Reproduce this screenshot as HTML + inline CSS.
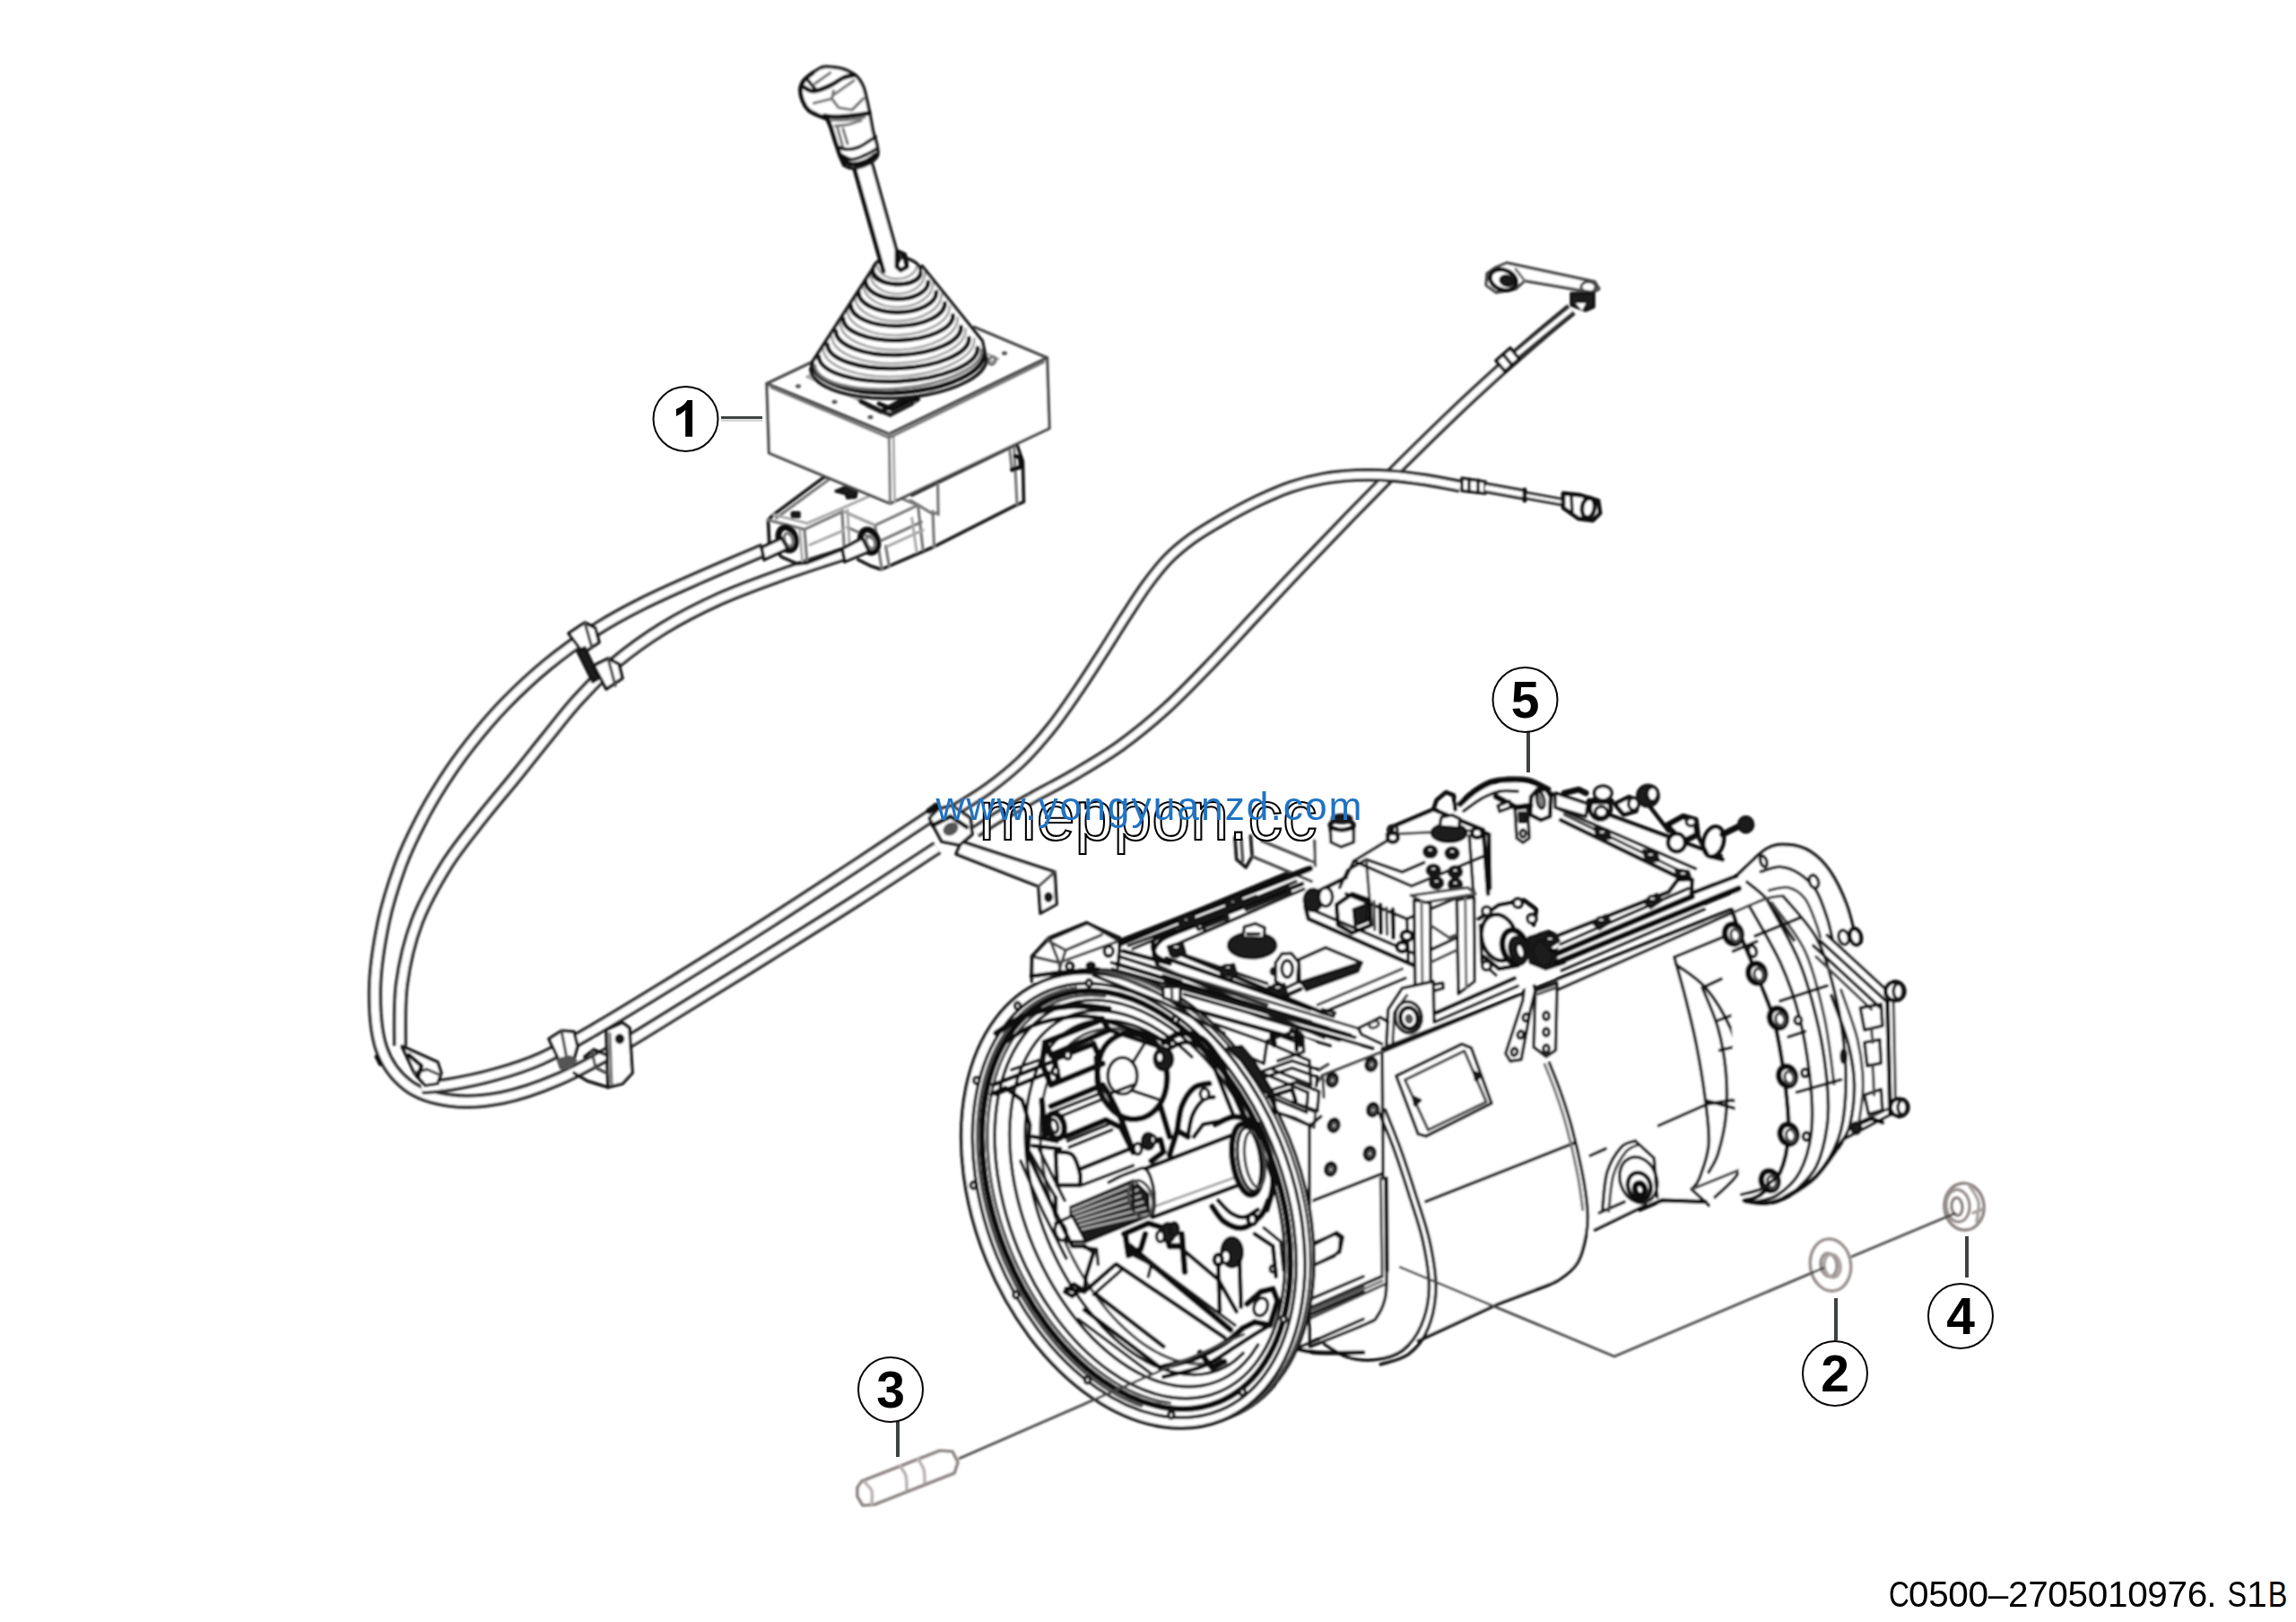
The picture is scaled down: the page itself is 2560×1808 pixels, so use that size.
<!DOCTYPE html>
<html>
<head>
<meta charset="utf-8">
<title>C0500-2705010976.S1B</title>
<style>
html,body{margin:0;padding:0;background:#fff;}
body{width:2560px;height:1808px;overflow:hidden;font-family:"Liberation Sans",sans-serif;}
svg{display:block;position:absolute;left:0;top:0;}
.g{fill:none;stroke:#161616;stroke-width:3.7;stroke-linecap:round;stroke-linejoin:round;}
.g *{vector-effect:non-scaling-stroke;}
.m{stroke-width:3.4;stroke:#484848;}
.t{stroke-width:3.2;stroke:#777;}
.tt{stroke-width:2.9;stroke:#a6a6a6;}
.h{stroke-width:4.8;stroke:#0c0c0c;}
.hh{stroke-width:6.8;stroke:#0a0a0a;}
.w{fill:#fff;}
.k{fill:#1c1c1c;}
.kg{fill:#555;stroke:none;}
.cab{vector-effect:non-scaling-stroke;fill:none;stroke:#2e2e2e;stroke-linecap:butt;stroke-linejoin:round;}
.cabw{vector-effect:non-scaling-stroke;fill:none;stroke:#fff;stroke-linecap:butt;stroke-linejoin:round;}
.gry{stroke:#8d8684;}
.num{font-family:"Liberation Sans",sans-serif;font-weight:bold;font-size:57px;text-anchor:middle;fill:#000;}
.co{fill:#fff;stroke:#0a0505;stroke-width:2;}
.ld{stroke:#3e4242;stroke-width:4;fill:none;}
.lds{stroke:#cfcfcf;stroke-width:2.4;fill:none;}
.thin{stroke:#484848;stroke-width:2.9;fill:none;}
</style>
</head>
<body>
<svg width="2560" height="1808" viewBox="0 0 2560 1808">
<defs>
<filter id="sf" x="-5%" y="-5%" width="110%" height="110%"><feGaussianBlur stdDeviation="0.9"/></filter>
</defs>
<rect x="0" y="0" width="2560" height="1808" fill="#fff"/>

<g id="drawing" filter="url(#sf)">
<!--CABLES-->
<path class="cab" stroke-width="14.8" d="M1088 927C1092.4 924.2 1103.7 916.6 1114.3 910.2C1124.8 903.9 1137.1 897 1151.1 889.1C1165.1 881.3 1182.1 872.8 1198.5 863.1C1214.9 853.4 1232.6 843.2 1249.5 831C1266.4 818.8 1283.3 805 1300.1 789.8C1316.8 774.6 1333.5 757.1 1350.1 739.9C1366.7 722.7 1383.2 704.3 1399.7 686.6C1416.2 668.9 1432.3 651.6 1449.2 633.9C1466.1 616.1 1482.9 598.6 1501.1 579.8C1519.4 561.1 1538.9 541 1558.6 521.4C1578.3 501.9 1599.8 480.7 1619.1 462.3C1638.4 443.9 1658 426 1674.5 411.1C1691 396.2 1705.3 384 1718.2 373C1731.1 362 1746.4 349.7 1752 345"/>
<path class="cabw" stroke-width="7.4" d="M1088 927C1092.4 924.2 1103.7 916.6 1114.3 910.2C1124.8 903.9 1137.1 897 1151.1 889.1C1165.1 881.3 1182.1 872.8 1198.5 863.1C1214.9 853.4 1232.6 843.2 1249.5 831C1266.4 818.8 1283.3 805 1300.1 789.8C1316.8 774.6 1333.5 757.1 1350.1 739.9C1366.7 722.7 1383.2 704.3 1399.7 686.6C1416.2 668.9 1432.3 651.6 1449.2 633.9C1466.1 616.1 1482.9 598.6 1501.1 579.8C1519.4 561.1 1538.9 541 1558.6 521.4C1578.3 501.9 1599.8 480.7 1619.1 462.3C1638.4 443.9 1658 426 1674.5 411.1C1691 396.2 1705.3 384 1718.2 373C1731.1 362 1746.4 349.7 1752 345"/>
<path class="cab" stroke-width="14.8" d="M1066 902C1072 898.1 1090.1 887.6 1102.1 878.8C1114.2 869.9 1126.7 860.1 1138.3 849C1149.9 837.8 1161.3 824.7 1171.7 811.7C1182.2 798.7 1191.7 784.6 1201.1 770.9C1210.5 757.3 1219.4 743.4 1228.1 729.8C1236.9 716.2 1245.4 702.2 1253.7 689.3C1262.1 676.4 1270.3 663.3 1278.4 652.2C1286.6 641.1 1294.2 631.3 1302.6 622.7C1311.1 614 1319.2 607.5 1329.1 600.3C1339.1 593.1 1350.4 586.5 1362.5 579.5C1374.6 572.6 1388.8 564.9 1401.7 558.7C1414.7 552.5 1427.8 546.8 1440.2 542.6C1452.5 538.4 1463.8 535.6 1475.8 533.5C1487.7 531.3 1499.5 530.3 1512 529.7C1524.4 529.2 1537.4 529.4 1550.3 530.3C1563.2 531.1 1576.4 533 1589.4 534.9C1602.3 536.9 1621.6 540.8 1628 542"/>
<path class="cabw" stroke-width="7.4" d="M1066 902C1072 898.1 1090.1 887.6 1102.1 878.8C1114.2 869.9 1126.7 860.1 1138.3 849C1149.9 837.8 1161.3 824.7 1171.7 811.7C1182.2 798.7 1191.7 784.6 1201.1 770.9C1210.5 757.3 1219.4 743.4 1228.1 729.8C1236.9 716.2 1245.4 702.2 1253.7 689.3C1262.1 676.4 1270.3 663.3 1278.4 652.2C1286.6 641.1 1294.2 631.3 1302.6 622.7C1311.1 614 1319.2 607.5 1329.1 600.3C1339.1 593.1 1350.4 586.5 1362.5 579.5C1374.6 572.6 1388.8 564.9 1401.7 558.7C1414.7 552.5 1427.8 546.8 1440.2 542.6C1452.5 538.4 1463.8 535.6 1475.8 533.5C1487.7 531.3 1499.5 530.3 1512 529.7C1524.4 529.2 1537.4 529.4 1550.3 530.3C1563.2 531.1 1576.4 533 1589.4 534.9C1602.3 536.9 1621.6 540.8 1628 542"/>
<path class="cab" stroke-width="16.2" d="M852 613C839.8 618.2 801.4 634.3 779.1 644.2C756.7 654 737.2 662.4 717.9 672.1C698.5 681.8 681.1 691.1 663.2 702.6C645.2 714.2 626.7 727.5 610 741.2C593.2 755 576.9 770.5 562.6 785.1C548.4 799.8 535.9 814.8 524.5 829.2C513.1 843.6 503.5 857.3 494.3 871.6C485.1 885.9 477 899.5 469.1 915C461.1 930.5 453.3 946 446.4 964.7C439.6 983.5 432.5 1004.6 427.7 1027.5C423 1050.4 418.4 1078.6 418 1102.1C417.6 1125.7 419.2 1150.9 425.3 1168.9C431.4 1186.8 441.8 1200.1 454.5 1209.7C467.3 1219.4 484 1224.3 501.5 1226.6C519.1 1229 539.7 1227.6 559.8 1223.7C579.9 1219.8 601.1 1212.3 622.1 1203.3C643.1 1194.4 662.3 1183.5 685.7 1170.1C709.2 1156.8 734.2 1140.7 762.7 1123.2C791.3 1105.7 825.1 1084.9 856.9 1065.1C888.7 1045.3 922.2 1024.6 953.5 1004.6C984.8 984.6 1029.8 954.9 1045 945"/>
<path class="cabw" stroke-width="8.8" d="M852 613C839.8 618.2 801.4 634.3 779.1 644.2C756.7 654 737.2 662.4 717.9 672.1C698.5 681.8 681.1 691.1 663.2 702.6C645.2 714.2 626.7 727.5 610 741.2C593.2 755 576.9 770.5 562.6 785.1C548.4 799.8 535.9 814.8 524.5 829.2C513.1 843.6 503.5 857.3 494.3 871.6C485.1 885.9 477 899.5 469.1 915C461.1 930.5 453.3 946 446.4 964.7C439.6 983.5 432.5 1004.6 427.7 1027.5C423 1050.4 418.4 1078.6 418 1102.1C417.6 1125.7 419.2 1150.9 425.3 1168.9C431.4 1186.8 441.8 1200.1 454.5 1209.7C467.3 1219.4 484 1224.3 501.5 1226.6C519.1 1229 539.7 1227.6 559.8 1223.7C579.9 1219.8 601.1 1212.3 622.1 1203.3C643.1 1194.4 662.3 1183.5 685.7 1170.1C709.2 1156.8 734.2 1140.7 762.7 1123.2C791.3 1105.7 825.1 1084.9 856.9 1065.1C888.7 1045.3 922.2 1024.6 953.5 1004.6C984.8 984.6 1029.8 954.9 1045 945"/>
<path class="cab" stroke-width="16.2" d="M940 618C928.5 621.8 893.5 632.9 870.8 641.1C848 649.3 825.4 657.3 803.5 667.1C781.7 677 759.5 688.2 739.9 700.2C720.3 712.2 701.7 725.8 685.7 739.1C669.8 752.5 657 766.4 644.4 780.1C631.8 793.9 621.5 807.6 610.1 821.7C598.7 835.7 587.9 849.6 575.9 864.4C563.9 879.2 550.9 894 537.9 910.6C524.9 927.3 510.1 944.6 497.9 964.1C485.8 983.6 473.2 1005.3 464.9 1027.5C456.5 1049.6 451 1074 447.9 1097.1C444.8 1120.2 446.3 1154.5 446 1166"/>
<path class="cabw" stroke-width="8.8" d="M940 618C928.5 621.8 893.5 632.9 870.8 641.1C848 649.3 825.4 657.3 803.5 667.1C781.7 677 759.5 688.2 739.9 700.2C720.3 712.2 701.7 725.8 685.7 739.1C669.8 752.5 657 766.4 644.4 780.1C631.8 793.9 621.5 807.6 610.1 821.7C598.7 835.7 587.9 849.6 575.9 864.4C563.9 879.2 550.9 894 537.9 910.6C524.9 927.3 510.1 944.6 497.9 964.1C485.8 983.6 473.2 1005.3 464.9 1027.5C456.5 1049.6 451 1074 447.9 1097.1C444.8 1120.2 446.3 1154.5 446 1166"/>
<path class="cab" stroke-width="16.2" d="M470 1212C475.1 1211.5 487.2 1211.4 500.9 1209C514.6 1206.7 534.9 1202.7 552 1197.8C569.2 1193 585.5 1188.1 603.7 1179.9C621.9 1171.8 636.5 1163.1 661.2 1148.7C685.8 1134.4 718.9 1114.2 751.8 1093.9C784.7 1073.7 824.9 1048.7 858.6 1027.2C892.3 1005.7 923.6 985 953.9 965.2C984.1 945.3 1025.6 917.5 1040 908"/>
<path class="cabw" stroke-width="8.8" d="M470 1212C475.1 1211.5 487.2 1211.4 500.9 1209C514.6 1206.7 534.9 1202.7 552 1197.8C569.2 1193 585.5 1188.1 603.7 1179.9C621.9 1171.8 636.5 1163.1 661.2 1148.7C685.8 1134.4 718.9 1114.2 751.8 1093.9C784.7 1073.7 824.9 1048.7 858.6 1027.2C892.3 1005.7 923.6 985 953.9 965.2C984.1 945.3 1025.6 917.5 1040 908"/>
<!--/CABLES-->
<!--LEVER-->
<g class="g" transform="translate(840 480) scale(0.14983)">
<path d="M1180 480L1960 100L2005 230L2012 530L1960 552L1335 868L1000 1012L950 1032L880 1010L780 960"/>
<path class="t" d="M1372 400L1376 625"/>
<path class="t" d="M1940 105L1962 545"/>
<path class="t" d="M1905 120L1925 300"/>
<path class="h" d="M1925 290L1990 270L1985 200L1950 190"/>
<path class="t" d="M690 610L905 705L1225 555L1020 470"/>
<path class="t" d="M905 705L925 830L955 1030"/>
<path class="t" d="M700 720L905 810"/>
<path class="t" d="M925 830L1250 680"/>
<path class="t" d="M1225 555L1262 885"/>
<path class="t" d="M1335 600L1345 865"/>
<path class="t" d="M1170 520L1335 620L1375 610"/>
<path class="t" d="M985 860L1010 1005"/>
<path class="tt" d="M1180 650L1215 900"/>
<path class="tt" d="M1000 860L1262 740"/>
<path d="M118 830L110 665L150 625L520 350L545 345"/>
<path class="t" d="M170 650L560 365"/>
<path class="t" d="M110 665L380 735L670 600"/>
<path class="tt" d="M150 625L400 690L700 560L880 480"/>
<path class="t" d="M380 735L400 985"/>
<path class="tt" d="M345 740L365 980"/>
<path d="M118 830L210 940L330 992L400 985L672 880"/>
<path class="t" d="M660 600L680 950"/>
<path class="tt" d="M700 590L720 930"/>
<path class="tt" d="M420 850L665 745"/>
<path class="tt" d="M670 600L900 700"/>
<path class="k" d="M290 612L340 612L340 640L290 640Z"/>
<path class="k" d="M615 450L700 415L770 440L760 495L700 500L690 470Z"/>
<ellipse class="hh" cx="252" cy="805" rx="62" ry="88" transform="rotate(-20 252 805)"/>
<ellipse class="t" cx="262" cy="812" rx="30" ry="50" transform="rotate(-20 262 812)"/>
<ellipse class="hh" cx="862" cy="822" rx="62" ry="88" transform="rotate(-20 862 822)"/>
<ellipse class="t" cx="872" cy="830" rx="30" ry="50" transform="rotate(-20 872 830)"/>
<path class="w" d="M60 870L210 800L255 880L80 960Z"/>
<path class="w" d="M660 880L810 800L860 900L680 975Z"/>
<path d="M60 870L80 960"/>
<path d="M660 880L680 975"/>
</g>
<g class="g" transform="translate(700 300) scale(0.25)">
<path class="w m" d="M620 510L1165 735L1870 395L1880 710L1170 1045L630 820Z"/>
<path class="t" d="M1165 735L1170 1045"/>
<path class="tt" d="M1185 745L1190 1035"/>
<path class="m" d="M620 510L845 403"/>
<path class="m" d="M1870 395L1545 258"/>
<path class="t" d="M640 528L1165 752L1855 415"/>
<path class="tt" d="M800 480L1160 640L1650 400"/>
<path class="tt" d="M800 480L850 455"/>
<path class="tt" d="M1650 400L1590 372"/>
<path class="t" d="M1030 585L1170 645L1290 590"/>
<path class="h" d="M1120 600L1180 625L1250 590"/>
<ellipse class="kg" cx="760" cy="522" rx="12" ry="9"/>
<ellipse class="kg" cx="922" cy="592" rx="12" ry="9"/>
<ellipse class="kg" cx="1082" cy="660" rx="12" ry="9"/>
<ellipse class="kg" cx="1680" cy="375" rx="12" ry="9"/>
<ellipse class="t" cx="1625" cy="408" rx="14" ry="18" transform="rotate(30 1625 408)"/>
</g>
<g class="g" transform="translate(880 260) scale(0.125)">
<path class="w" d="M760 290L1180 290L1740 1020L1740 1160L1500 1330L950 1430L420 1330L200 1200L205 1140Z" stroke="none"/>
<path class="h" d="M740 340A215.2 105 2.7 0 0 1170 360"/>
<path class="tt" d="M780 270A180.1 135 1.6 0 0 1140 280"/>
<path class="h" d="M680 425A280 155 1 0 0 1240 435"/>
<path class="tt" d="M720 355A245 185 0 0 0 1210 355"/>
<path class="h" d="M618 525A347 180 0 0 0 1312 525"/>
<path class="tt" d="M658 455A312 210 -0.9 0 0 1282 445"/>
<path class="h" d="M548 642A420.1 194.5 -1.2 0 0 1388 625"/>
<path class="tt" d="M588 572A385.2 224.5 -2 0 0 1358 545"/>
<path class="h" d="M480 760A490.2 209 -1.6 0 0 1460 732"/>
<path class="tt" d="M520 690A455.4 239 -2.4 0 0 1430 652"/>
<path class="h" d="M415 872A558.8 231.5 -1.9 0 0 1532 835"/>
<path class="tt" d="M455 802A524 261.5 -2.6 0 0 1502 755"/>
<path class="h" d="M340 992A632.1 241.5 -2.6 0 0 1603 935"/>
<path class="tt" d="M380 922A597.4 271.5 -3.2 0 0 1573 855"/>
<path class="h" d="M262 1100A710.1 261 -3.1 0 0 1680 1022"/>
<path class="tt" d="M302 1030A675.4 291 -3.7 0 0 1650 942"/>
<path class="h" d="M205 1160A769.1 310 -3.7 0 0 1740 1060"/>
<path d="M190 1210A786.6 310 -3.6 0 0 1760 1110"/>
<path class="t" d="M230 1180A745.8 275 -5.4 0 0 1715 1040"/>
<path d="M760 292L205 1150L195 1215"/>
<path d="M1185 292L1722 960L1750 1090"/>
<ellipse cx="960" cy="330" rx="212" ry="120" transform="rotate(3 960 330)"/>
<path class="h" d="M640 1500L820 1590L980 1500L1150 1480"/>
<path d="M700 1540L900 1622"/>
<path d="M900 1622L1100 1520"/>
</g>
<g class="g" transform="translate(870 60) scale(0.125)">
<path class="w" d="M650 1000L830 990L1065 1850L925 1950Z" stroke="none"/>
<path class="h" d="M660 1020L920 1940"/>
<path d="M822 985L1062 1840"/>
<path class="h" d="M1040 1760L1110 1790L1130 1900L1075 1930L1040 1900Z"/>
<path class="w" d="M420 115C453.3 116.7 516.7 120.8 560 135C603.3 149.2 650 174.2 680 200C710 225.8 725 256.7 740 290C755 323.3 760 358.3 770 400C780 441.7 790 490 800 540C810 590 820 656.7 830 700C840 743.3 853.3 766.7 860 800C866.7 833.3 876.7 873.3 870 900C863.3 926.7 841.7 943.3 820 960C798.3 976.7 770 990 740 1000C710 1010 668.3 1021.7 640 1020C611.7 1018.3 588.3 1010 570 990C551.7 970 543.3 935 530 900C516.7 865 503.3 821.7 490 780C476.7 738.3 461.7 683.3 450 650C438.3 616.7 440 597.5 420 580C400 562.5 358.3 558.3 330 545C301.7 531.7 271.7 520.8 250 500C228.3 479.2 211.7 450 200 420C188.3 390 178.3 350 180 320C181.7 290 191.7 265 210 240C228.3 215 265 189.2 290 170C315 150.8 338.3 134.2 360 125C381.7 115.8 386.7 113.3 420 115Z"/>
<path class="h" d="M420 580C405 574.2 358.3 558.3 330 545C301.7 531.7 271.7 520.8 250 500C228.3 479.2 211.7 450 200 420C188.3 390 178.3 350 180 320C181.7 290 191.7 265 210 240C228.3 215 276.7 181.7 290 170"/>
<path class="h" d="M215 300C224.2 305 249.2 325.8 270 330C290.8 334.2 310 333.3 340 325C370 316.7 413.3 298.3 450 280C486.7 261.7 525 230 560 215C595 200 643.3 194.2 660 190"/>
<path d="M250 240C258.3 250 286.7 285 300 300C313.3 315 325 325 330 330"/>
<path class="t" d="M310 265L445 170"/>
<path class="t" d="M470 370L655 240"/>
<path class="t" d="M300 440L460 400L475 330"/>
<path class="t" d="M460 400L520 480L640 500L740 400"/>
<path class="h" d="M395 552C412.5 553.7 457.5 562.3 500 562C542.5 561.7 600.8 555.7 650 550C699.2 544.3 770.8 531.7 795 528"/>
<path class="t" d="M460 592C483.3 591.7 551.7 594.3 600 590C648.3 585.7 725 570 750 566"/>
<path class="t" d="M490 642C508.3 640.3 561.7 639.8 600 632C638.3 624.2 700 601.2 720 595"/>
<path class="t" d="M510 660L560 840"/>
<path class="t" d="M560 670L600 800"/>
<path d="M510 830C525 833.7 568.3 851.7 600 852C631.7 852.3 666.7 845.3 700 832C733.3 818.7 775 787.3 800 772C825 756.7 841.7 745.3 850 740"/>
<path d="M540 900C556.7 907 603.3 941.7 640 942C676.7 942.3 724.2 917.3 760 902C795.8 886.7 839.2 858.7 855 850"/>
<path class="h" d="M560 940C573.3 947.5 606.7 981.7 640 985C673.3 988.3 725 974.2 760 960C795 945.8 835 910 850 900"/>
<path class="h" d="M420 580L450 650L490 780L530 900L570 990"/>
</g>
<!--/LEVER-->
<!--GEARBOX-->
<g class="g" transform="translate(1400 1000) scale(0.3484)">
<path class="w" d="M405 495L905 288L1530 35L1700 60L1800 140L1880 330L1900 600L1880 800L1800 930L1640 985L1460 985L1250 985L1090 1065L1060 1080L1030 1170L940 1240L780 1300L520 1420L440 1470L300 1470L215 1425L160 1330L160 640L215 570Z" stroke="none"/>
<path d="M405 495L905 288"/>
<path d="M965 262L1525 38"/>
<path d="M545 974L1022 786"/>
<path d="M1071 827L1120 805"/>
<path d="M1290 731L1446 662L1520 650L1580 655"/>
<path d="M1590 690L1720 640"/>
<path d="M520 1420L780 1300L940 1240"/>
<path d="M1085 1065L1250 985"/>
<path d="M1100 1010L1180 975"/>
<path d="M405 495L408 900"/>
<path class="h" d="M418 900L420 1195"/>
<path class="m" d="M400 900L405 1215"/>
<path class="m" d="M215 570L405 495"/>
<path class="m" d="M160 640L215 570L218 640"/>
<path d="M160 640L160 1325"/>
<path d="M160 980L405 885"/>
<path d="M160 1320L400 1215"/>
<path class="m" d="M170 1350L410 1240"/>
<path class="t" d="M165 1335L405 1228"/>
<ellipse class="w h" cx="370" cy="535" rx="15" ry="19" transform="rotate(15 370 535)"/>
<ellipse class="m" cx="371" cy="536" rx="7" ry="9" transform="rotate(15 371 536)"/>
<ellipse class="w h" cx="245" cy="585" rx="15" ry="19" transform="rotate(15 245 585)"/>
<ellipse class="m" cx="246" cy="586" rx="7" ry="9" transform="rotate(15 246 586)"/>
<ellipse class="w h" cx="375" cy="680" rx="15" ry="19" transform="rotate(15 375 680)"/>
<ellipse class="m" cx="376" cy="681" rx="7" ry="9" transform="rotate(15 376 681)"/>
<ellipse class="w h" cx="250" cy="730" rx="15" ry="19" transform="rotate(15 250 730)"/>
<ellipse class="m" cx="251" cy="731" rx="7" ry="9" transform="rotate(15 251 731)"/>
<ellipse class="w h" cx="365" cy="820" rx="15" ry="19" transform="rotate(15 365 820)"/>
<ellipse class="m" cx="366" cy="821" rx="7" ry="9" transform="rotate(15 366 821)"/>
<ellipse class="w h" cx="240" cy="870" rx="15" ry="19" transform="rotate(15 240 870)"/>
<ellipse class="m" cx="241" cy="871" rx="7" ry="9" transform="rotate(15 241 871)"/>
<path d="M165 1115L255 1078L272 1090L268 1130L250 1150L170 1185"/>
<path d="M420 1195C419.2 1209.2 420 1255.8 415 1280C410 1304.2 400 1325.8 390 1340C380 1354.2 391.7 1348.3 355 1365C318.3 1381.7 200.8 1427.5 170 1440"/>
<path d="M160 1330C158.3 1341.7 148.3 1381.7 150 1400C151.7 1418.3 166.7 1433.3 170 1440"/>
<path d="M395 690C402.5 708.3 424.2 756.7 440 800C455.8 843.3 474.2 900 490 950C505.8 1000 524.2 1050 535 1100C545.8 1150 555.8 1205 555 1250C554.2 1295 544.2 1336.7 530 1370C515.8 1403.3 495 1431.7 470 1450C445 1468.3 410 1476.7 380 1480C350 1483.3 316.7 1478.3 290 1470C263.3 1461.7 231.7 1436.7 220 1430"/>
<path d="M415 680C422.8 700 445.8 755 462 800C478.2 845 496.2 900 512 950C527.8 1000 546.2 1050 557 1100C567.8 1150 577.8 1203.3 577 1250C576.2 1296.7 566.5 1344.7 552 1380C537.5 1415.3 515.3 1442.8 490 1462C464.7 1481.2 415 1489.5 400 1495"/>
<path d="M940 530C945.8 545 963.3 586.7 975 620C986.7 653.3 998.3 686.7 1010 730C1021.7 773.3 1036.3 835 1045 880C1053.7 925 1059.8 966.7 1062 1000C1064.2 1033.3 1063.3 1051.7 1058 1080C1052.7 1108.3 1044.7 1145.8 1030 1170C1015.3 1194.2 991.7 1210.8 970 1225C948.3 1239.2 911.7 1250 900 1255"/>
<path class="t" d="M925 535C930.8 550 948.3 591.7 960 625C971.7 658.3 983.3 691.7 995 735C1006.7 778.3 1021.3 840.8 1030 885C1038.7 929.2 1044.2 980.8 1047 1000"/>
<path d="M450 572L660 470L690 482L755 660L545 765L520 758Z"/>
<path class="m" d="M478 585L668 492L738 655L552 745Z"/>
<path class="k" d="M700 560L722 570L705 585Z"/>
<path class="k" d="M505 640L527 650L510 665Z"/>
<path class="w" d="M870 190L855 330L800 500L815 525L850 520L880 360L895 300Z"/>
<path class="w" d="M895 300L965 275L960 490L930 510L890 480Z"/>
<path class="m" d="M905 310L960 290"/>
<ellipse cx="865" cy="385" rx="9" ry="12" transform="rotate(15 865 385)"/>
<ellipse cx="848" cy="440" rx="9" ry="12" transform="rotate(15 848 440)"/>
<ellipse cx="828" cy="495" rx="9" ry="12" transform="rotate(15 828 495)"/>
<ellipse cx="930" cy="380" rx="9" ry="12"/>
<ellipse cx="930" cy="432" rx="9" ry="12"/>
<ellipse cx="930" cy="485" rx="9" ry="12"/>
<path d="M1110 1000C1112.5 980 1115 913.3 1125 880C1135 846.7 1155 816.7 1170 800C1185 783.3 1207.5 783.3 1215 780"/>
<path class="m" d="M1130 1005C1132.5 985.8 1135.8 921.7 1145 890C1154.2 858.3 1171.7 831.3 1185 815C1198.3 798.7 1218.3 795.8 1225 792"/>
<path d="M1215 780L1275 835L1285 960"/>
<ellipse cx="1225" cy="905" rx="58" ry="75" transform="rotate(-20 1225 905)"/>
<ellipse class="h" cx="1228" cy="925" rx="36" ry="44" transform="rotate(-20 1228 925)"/>
<ellipse class="hh" cx="1230" cy="935" rx="16" ry="20" transform="rotate(-20 1230 935)"/>
<path class="h" d="M1230 1000L1300 970L1440 975"/>
<path d="M1340 192L1540 110"/>
<path d="M1340 192C1345.8 213.3 1363.3 273.7 1375 320C1386.7 366.3 1399.5 416.7 1410 470C1420.5 523.3 1431.3 586.7 1438 640C1444.7 693.3 1453 746.7 1450 790C1447 833.3 1429.2 875.8 1420 900C1410.8 924.2 1399.2 929.2 1395 935"/>
<path d="M1395 935L1450 985"/>
<path d="M1345 215C1360.8 227.5 1410.8 255.8 1440 290C1469.2 324.2 1500 375 1520 420C1540 465 1550.8 513.3 1560 560C1569.2 606.7 1572.5 676.7 1575 700"/>
<path d="M1430 290C1438.3 311.7 1467.5 375 1480 420C1492.5 465 1500.8 513.3 1505 560C1509.2 606.7 1509.2 656.7 1505 700C1500.8 743.3 1489.2 790 1480 820C1470.8 850 1455 870 1450 880"/>
<path d="M1575 700C1575.8 716.7 1585.8 768.3 1580 800C1574.2 831.7 1558.3 863.3 1540 890C1521.7 916.7 1481.7 948.3 1470 960"/>
<path d="M1430 290L1490 262"/>
<path d="M1478 395L1545 370"/>
<path d="M1485 490L1570 470"/>
<path d="M1440 650L1585 690"/>
<path class="m" d="M1395 935L1850 750"/>
<path d="M1560 400L1660 360"/>
<path d="M1585 600L1700 560"/>
</g>
<g class="g" transform="translate(1840 900) scale(0.3082)">
<path class="w" d="M330 230C351.7 188.3 391.7 165.8 420 150C448.3 134.2 473.3 133.3 500 135C526.7 136.7 555 144.2 580 160C605 175.8 628.3 198.3 650 230C671.7 261.7 695 310 710 350C725 390 711.7 420 740 470C768.3 520 853.3 545 880 650C906.7 755 930 1005.8 900 1100C870 1194.2 750 1175.8 700 1215C650 1254.2 636.7 1301.7 600 1335C563.3 1368.3 523.3 1400 480 1415C436.7 1430 370 1510.8 340 1425C310 1339.2 308.3 1070.8 300 900C291.7 729.2 285 511.7 290 400C295 288.3 308.3 271.7 330 230Z" stroke="none"/>
<path d="M320 240C336.7 225 390 167.5 420 150C450 132.5 473.3 133.3 500 135C526.7 136.7 555 144.2 580 160C605 175.8 628.3 198.3 650 230C671.7 261.7 694.2 308.3 710 350C725.8 391.7 739.2 458.3 745 480"/>
<path d="M400 232C411.7 229.2 446.7 213.7 470 215C493.3 216.3 518.3 225.8 540 240C561.7 254.2 583.3 273.3 600 300C616.7 326.7 630 370 640 400C650 430 656.7 466.7 660 480"/>
<path class="m" d="M430 300C441.7 298.3 478.3 285 500 290C521.7 295 543.3 308.3 560 330C576.7 351.7 590.8 396.7 600 420C609.2 443.3 612.5 461.7 615 470"/>
<path d="M350 270C361.7 280 398.3 305 420 330C441.7 355 463.3 395 480 420C496.7 445 513.3 470 520 480"/>
<ellipse cx="410" cy="195" rx="11" ry="20" transform="rotate(-20 410 195)"/>
<ellipse class="w" cx="592" cy="268" rx="16" ry="24" transform="rotate(-20 592 268)"/>
<ellipse class="w h" cx="742" cy="468" rx="20" ry="30" transform="rotate(-15 742 468)"/>
<ellipse class="w" cx="700" cy="470" rx="18" ry="26" transform="rotate(-15 700 470)"/>
<path class="h" d="M295 370C300.8 386.7 312.5 425 330 470C347.5 515 380 588.3 400 640C420 691.7 435.3 720 450 780C464.7 840 479.7 933.3 488 1000C496.3 1066.7 503 1126.7 500 1180C497 1233.3 486.7 1283.3 470 1320C453.3 1356.7 421.7 1383 400 1400C378.3 1417 350 1418.3 340 1422"/>
<path d="M360 360C378.3 393.3 440 493.3 470 560C500 626.7 521.7 686.7 540 760C558.3 833.3 573 930 580 1000C587 1070 588.7 1126.7 582 1180C575.3 1233.3 560.3 1283 540 1320C519.7 1357 486.7 1384.2 460 1402C433.3 1419.8 393.3 1422.8 380 1427"/>
<path d="M420 330C440 368.3 508.3 481.7 540 560C571.7 638.3 593.3 726.7 610 800C626.7 873.3 635 941.7 640 1000C645 1058.3 646.7 1100 640 1150C633.3 1200 620 1259.7 600 1300C580 1340.3 533.3 1376.7 520 1392"/>
<path d="M480 320C500 345 570 416.7 600 470C630 523.3 643.3 576.7 660 640C676.7 703.3 692.3 781.7 700 850C707.7 918.3 709.3 991.7 706 1050C702.7 1108.3 697.7 1153 680 1200C662.3 1247 633.3 1296.7 600 1332C566.7 1367.3 500 1398.7 480 1412"/>
<path class="m" d="M440 345C460 374.2 528.3 450.8 560 520C591.7 589.2 612.5 680 630 760C647.5 840 659.2 960 665 1000"/>
<path class="m" d="M300 380C320 371.7 390 340 420 330C450 320 470 321.7 480 320"/>
<path d="M300 520L385 485"/>
<path d="M380 465L540 400"/>
<path d="M470 700L640 645"/>
<path d="M530 1030L690 985"/>
<path d="M500 830L560 810"/>
<ellipse class="w hh" cx="300" cy="458" rx="30" ry="36" transform="rotate(-15 300 458)"/>
<ellipse class="m" cx="308" cy="463" rx="16" ry="22" transform="rotate(-15 308 463)"/>
<ellipse class="w hh" cx="385" cy="600" rx="30" ry="36" transform="rotate(-15 385 600)"/>
<ellipse class="m" cx="393" cy="605" rx="16" ry="22" transform="rotate(-15 393 605)"/>
<ellipse class="w hh" cx="462" cy="762" rx="30" ry="36" transform="rotate(-15 462 762)"/>
<ellipse class="m" cx="470" cy="767" rx="16" ry="22" transform="rotate(-15 470 767)"/>
<ellipse class="w hh" cx="495" cy="972" rx="30" ry="36" transform="rotate(-15 495 972)"/>
<ellipse class="m" cx="503" cy="977" rx="16" ry="22" transform="rotate(-15 503 977)"/>
<ellipse class="w hh" cx="500" cy="1182" rx="30" ry="36" transform="rotate(-15 500 1182)"/>
<ellipse class="m" cx="508" cy="1187" rx="16" ry="22" transform="rotate(-15 508 1187)"/>
<ellipse class="w hh" cx="432" cy="1350" rx="30" ry="36" transform="rotate(-15 432 1350)"/>
<ellipse class="m" cx="440" cy="1355" rx="16" ry="22" transform="rotate(-15 440 1355)"/>
<ellipse class="w" cx="370" cy="520" rx="14" ry="20" transform="rotate(-15 370 520)"/>
<ellipse class="w" cx="535" cy="770" rx="12" ry="14"/>
<ellipse class="w" cx="560" cy="960" rx="12" ry="14"/>
<ellipse class="w" cx="565" cy="1190" rx="12" ry="14"/>
<path d="M590 500L830 722"/>
<path d="M615 482L855 702"/>
<path d="M640 462L878 682"/>
<path class="m" d="M600 540L800 730"/>
<path class="h" d="M858 702L868 1112"/>
<path class="m" d="M880 700L888 1100"/>
<path d="M655 680C665 708.3 701.2 796.7 715 850C728.8 903.3 736.8 950 738 1000C739.2 1050 730 1114.7 722 1150C714 1185.3 695.3 1201.7 690 1212"/>
<path class="m" d="M690 660C700 690 736.7 783.3 750 840C763.3 896.7 769.2 950 770 1000C770.8 1050 757.5 1116.7 755 1140"/>
<path d="M868 1112L700 1200L682 1232"/>
<path class="m" d="M755 1140L860 1090"/>
<path d="M760 725L835 712L840 790L775 805Z"/>
<path d="M775 850L830 840L835 925L785 935Z"/>
<path d="M775 1040L835 1020L840 1095L790 1110Z"/>
<path class="m" d="M800 800L805 850"/>
<path class="m" d="M805 935L810 1040"/>
<path class="h" d="M740 1150L800 1125L840 1140"/>
<ellipse class="k" cx="745" cy="1160" rx="16" ry="20"/>
<ellipse class="k" cx="700" cy="900" rx="8" ry="22"/>
<ellipse class="w h" cx="885" cy="665" rx="34" ry="34"/>
<ellipse cx="897" cy="665" rx="17" ry="28"/>
<ellipse class="w h" cx="900" cy="1085" rx="32" ry="32"/>
<ellipse cx="912" cy="1085" rx="16" ry="26"/>
<path class="h" d="M345 1425C357.5 1426.2 394.2 1435.3 420 1432C445.8 1428.7 470 1421.2 500 1405C530 1388.8 568.3 1366.7 600 1335C631.7 1303.3 675 1235 690 1215"/>
<path d="M330 1400C341.7 1396.7 379.2 1390 400 1380C420.8 1370 445.8 1346.7 455 1340"/>
</g>
<g class="g" transform="translate(1100 850) scale(0.3484)">
<path class="w" d="M145 700L145 620L200 560L320 512L430 575L965 357L1030 330L1050 250L1130 205L1280 230L1450 150L1620 60L1640 400L1840 640L2296 440L2296 480L1266 915L1100 900L400 700Z" stroke="none"/>
<path d="M145 700L145 620L200 560L320 512L428 572L420 655"/>
<path class="m" d="M200 560L232 640L240 700"/>
<path class="m" d="M232 640L420 572"/>
<path class="m" d="M145 620L232 640"/>
<ellipse cx="390" cy="605" rx="13" ry="15"/>
<ellipse cx="268" cy="652" rx="10" ry="12"/>
<ellipse class="m" cx="335" cy="660" rx="9" ry="10"/>
<path class="hh" d="M430 578L965 357"/>
<path d="M468 596L990 380"/>
<path class="k" d="M618 512L662 492L668 512L624 532Z"/>
<path class="k" d="M768 450L812 430L818 450L774 470Z"/>
<path d="M690 520L760 492L772 510L700 540Z"/>
<path class="h" d="M1010 388C975 401.7 865 444.7 800 470C735 495.3 660 523.7 620 540C580 556.3 574.2 557.2 560 568C545.8 578.8 537 591.3 535 605C533 618.7 545.8 642.5 548 650"/>
<path d="M548 650L1080 880"/>
<path class="h" d="M590 600L1075 800"/>
<path d="M600 585L1015 405"/>
<path d="M1075 800L1340 690"/>
<path class="m" d="M1060 775L1330 660"/>
<ellipse class="w" cx="605" cy="597" rx="16" ry="13"/>
<ellipse cx="605" cy="609" rx="16" ry="13"/>
<ellipse class="w" cx="775" cy="668" rx="16" ry="13"/>
<ellipse cx="775" cy="680" rx="16" ry="13"/>
<ellipse class="w" cx="930" cy="722" rx="16" ry="13"/>
<ellipse cx="930" cy="734" rx="16" ry="13"/>
<path d="M1075 790L1115 800L1110 812L1070 800Z"/>
<path d="M335 655L1130 888"/>
<path d="M400 640L1165 872"/>
<path class="m" d="M428 622L1195 852"/>
<path d="M360 690L1100 905"/>
<path d="M560 735L620 755L622 700L565 682"/>
<path class="m" d="M590 700L592 750"/>
<ellipse class="k" cx="850" cy="585" rx="76" ry="40"/>
<path class="w" d="M820 560L825 525L860 515L890 528L888 562Z"/>
<path d="M835 548L872 548"/>
<path class="w" d="M925 700L925 640L945 612L975 610L1000 640L1002 700L960 720Z"/>
<ellipse cx="962" cy="660" rx="17" ry="27"/>
<ellipse class="k" cx="918" cy="668" rx="7" ry="10"/>
<path class="h" d="M905 720L960 745L1005 725"/>
<path d="M1000 630L1085 592L1200 640L1030 715L995 700Z"/>
<path class="k" d="M1008 702L1200 640L1188 668L1024 728Z"/>
<path class="w" d="M1020 460L1045 420L1150 370L1180 310L1290 245L1300 205L1430 150L1590 215L1605 420L1560 445L1560 740L1510 745L1500 640L1420 690L1420 760L1370 790L1365 640L1030 500Z" stroke="none"/>
<path class="h" d="M1020 460L1030 500L1370 650"/>
<path class="h" d="M1020 460L1045 420L1150 368"/>
<path d="M1040 470L1365 610"/>
<path d="M1150 368L1175 315L1290 245"/>
<path d="M1130 400L1155 345L1215 310L1330 350L1400 320"/>
<path d="M1150 420L1345 500L1350 640"/>
<path d="M1345 500L1560 410"/>
<path class="m" d="M1215 310L1225 430"/>
<path d="M1175 315L1360 395L1590 300"/>
<path class="m" d="M1280 230L1590 215"/>
<path class="h" d="M1290 245L1300 205L1430 150L1590 215L1605 420"/>
<path d="M1545 235L1560 445"/>
<ellipse class="k" cx="1045" cy="440" rx="28" ry="34"/>
<ellipse class="w" cx="1085" cy="430" rx="22" ry="30"/>
<path class="h" d="M1120 455L1170 420L1225 440L1230 520L1170 545L1125 520Z"/>
<path class="k" d="M1175 470L1215 455L1218 505L1180 520Z"/>
<path class="h" d="M1260 455L1262 545"/>
<path class="h" d="M1300 470L1302 560"/>
<path class="m" d="M1240 445L1242 535"/>
<path class="m" d="M1280 465L1282 550"/>
<ellipse class="k" cx="1480" cy="225" rx="55" ry="28"/>
<path class="w" d="M1450 205L1455 175L1490 168L1515 180L1512 210Z"/>
<path class="h" d="M1430 150L1440 120L1470 95L1495 105L1500 150"/>
<ellipse class="k" cx="1420" cy="285" rx="20" ry="17"/>
<ellipse class="w" cx="1420" cy="280" rx="11" ry="8"/>
<ellipse class="k" cx="1490" cy="290" rx="20" ry="17"/>
<ellipse class="w" cx="1490" cy="285" rx="11" ry="8"/>
<ellipse class="k" cx="1430" cy="345" rx="20" ry="17"/>
<ellipse class="w" cx="1430" cy="340" rx="11" ry="8"/>
<ellipse class="k" cx="1500" cy="350" rx="20" ry="17"/>
<ellipse class="w" cx="1500" cy="345" rx="11" ry="8"/>
<ellipse class="k" cx="1440" cy="385" rx="20" ry="17"/>
<ellipse class="w" cx="1440" cy="380" rx="11" ry="8"/>
<ellipse class="k" cx="1500" cy="390" rx="20" ry="17"/>
<ellipse class="w" cx="1500" cy="385" rx="11" ry="8"/>
<ellipse class="w h" cx="1300" cy="240" rx="17" ry="15"/>
<ellipse class="w h" cx="1570" cy="225" rx="17" ry="15"/>
<ellipse class="w h" cx="1330" cy="590" rx="17" ry="15"/>
<ellipse class="w h" cx="1345" cy="555" rx="17" ry="15"/>
<path class="w m" d="M1358 425L1540 400L1565 420L1400 448Z"/>
<path class="w" d="M1368 440L1372 775L1422 745L1420 450Z"/>
<path class="t" d="M1392 445L1395 760"/>
<path class="w" d="M1505 440L1510 740L1562 700L1560 430Z"/>
<path class="t" d="M1532 435L1535 720"/>
<path d="M1420 600L1505 560"/>
<path class="m" d="M1420 640L1505 600"/>
<path class="m" d="M1420 520L1480 560L1505 550"/>
<path class="h" d="M1575 500L1640 455L1720 440L1760 470L1750 520"/>
<ellipse class="w h" cx="1640" cy="560" rx="55" ry="75" transform="rotate(-15 1640 560)"/>
<ellipse class="w hh" cx="1690" cy="590" rx="38" ry="55" transform="rotate(-15 1690 590)"/>
<ellipse class="k" cx="1702" cy="600" rx="27" ry="42" transform="rotate(-15 1702 600)"/>
<ellipse class="w" cx="1708" cy="603" rx="13" ry="24" transform="rotate(-15 1708 603)"/>
<path class="k" d="M1735 560L1800 540L1850 560L1850 640L1790 660L1740 640Z"/>
<ellipse class="w" cx="1800" cy="585" rx="16" ry="20"/>
<path class="h" d="M1590 620L1640 660L1700 650"/>
<ellipse class="k" cx="1780" cy="610" rx="30" ry="42" transform="rotate(-15 1780 610)"/>
<ellipse class="w h" cx="1815" cy="575" rx="22" ry="28" transform="rotate(-15 1815 575)"/>
<path d="M1580 520L1585 640L1630 680"/>
<ellipse class="w" cx="1600" cy="475" rx="14" ry="14"/>
<ellipse class="w" cx="1700" cy="450" rx="14" ry="14"/>
<ellipse class="w" cx="1745" cy="500" rx="14" ry="14"/>
<ellipse class="w" cx="1600" cy="650" rx="14" ry="14"/>
<path class="w" d="M1190 850L1280 790L1330 720L1430 700L1435 830L1290 895L1265 915Z" stroke="none"/>
<path d="M1280 900L1285 790L1330 722L1430 700L1432 830"/>
<path class="m" d="M1300 895L1305 800L1345 745"/>
<ellipse cx="1350" cy="815" rx="42" ry="50" transform="rotate(-10 1350 815)"/>
<ellipse class="h" cx="1352" cy="818" rx="28" ry="34" transform="rotate(-10 1352 818)"/>
<ellipse class="kg" cx="1352" cy="820" rx="13" ry="16" transform="rotate(-10 1352 820)"/>
<path d="M1190 850L1260 815L1285 830"/>
<path d="M1190 850L1200 870L1265 900"/>
<ellipse class="m" cx="1240" cy="838" rx="16" ry="10" transform="rotate(-20 1240 838)"/>
<path d="M1432 710L1460 705L1462 722L1435 730"/>
<path d="M1435 830L1700 715"/>
<path class="h" d="M1440 800L1690 690"/>
<path class="hh" d="M1830 640L2296 440"/>
<path d="M1840 665L2296 470"/>
<path d="M1266 915L1700 745"/>
<path d="M1760 720L2296 505"/>
<path d="M795 240L800 310L830 335L850 300L845 235"/>
<path class="m" d="M815 245L820 315"/>
<path class="m" d="M850 300L1040 380"/>
<path class="m" d="M880 250L1050 320"/>
<path class="m" d="M1050 250L1052 330"/>
<path d="M1100 205L1102 255L1135 270L1175 255L1175 205"/>
<ellipse class="h" cx="1137" cy="200" rx="38" ry="16"/>
<ellipse class="k" cx="1137" cy="180" rx="30" ry="12"/>
<ellipse cx="1300" cy="215" rx="15" ry="13"/>
</g>
<g class="g" transform="translate(1640 850) scale(0.2004)">
<path class="w" d="M60 180L200 95L430 150L1400 525L1500 690L480 1110L490 960L420 900L330 690L105 690L100 400Z" stroke="none"/>
<path class="hh" d="M-60 230C-46.7 218.3 -8.3 180 20 160C48.3 140 80 120.8 110 110C140 99.2 165 96.7 200 95C235 93.3 281.7 90.8 320 100C358.3 109.2 411.7 141.7 430 150"/>
<path d="M-40 270C-23.3 258.3 26.7 218.3 60 200C93.3 181.7 126.7 166.7 160 160C193.3 153.3 243.3 160 260 160"/>
<path class="h" d="M440 170L1390 520"/>
<path d="M470 250L1250 590"/>
<path class="h" d="M500 320L1160 640"/>
<path class="m" d="M520 290L1180 610"/>
<path class="k" d="M690 365L760 375L775 420L710 425Z"/>
<ellipse class="w" cx="730" cy="387" rx="22" ry="14"/>
<path class="k" d="M960 490L1030 500L1045 545L980 550Z"/>
<ellipse class="w" cx="1000" cy="512" rx="22" ry="14"/>
<path class="k" d="M1140 595L1210 605L1225 650L1160 655Z"/>
<ellipse class="w" cx="1180" cy="617" rx="22" ry="14"/>
<path class="h" d="M100 400L105 700"/>
<path class="h" d="M60 380L100 400"/>
<path class="h" d="M1160 640L1100 720L490 960"/>
<path d="M1210 700L500 1010"/>
<path class="hh" d="M1230 745L480 1062"/>
<path class="hh" d="M1490 700L480 1112"/>
<path class="h" d="M1480 630L1240 722"/>
<path class="h" d="M1160 640L1232 652L1226 745"/>
<path class="k" d="M965 772L1035 732L1060 767L1000 807Z"/>
<ellipse class="w" cx="1010" cy="757" rx="22" ry="14"/>
<path class="k" d="M680 890L750 850L775 885L715 925Z"/>
<ellipse class="w" cx="725" cy="875" rx="22" ry="14"/>
<path class="k" d="M395 995L465 955L490 990L430 1030Z"/>
<ellipse class="w" cx="440" cy="980" rx="22" ry="14"/>
<path d="M480 1265L1455 835"/>
<path class="w h" d="M330 290L335 190L370 150L420 150L445 190L440 300L390 320Z"/>
<ellipse cx="388" cy="210" rx="20" ry="45" transform="rotate(-10 388 210)"/>
<ellipse class="t" cx="390" cy="212" rx="9" ry="25" transform="rotate(-10 390 212)"/>
<path class="w" d="M245 250L255 420L290 445L325 420L315 250Z"/>
<path class="k" d="M270 280L300 280L302 330L272 330Z"/>
<ellipse cx="290" cy="395" rx="14" ry="20"/>
<path class="hh" d="M140 190L250 250L330 240"/>
<path class="w" d="M150 240L215 215L222 250L160 272Z"/>
<path class="w" d="M470 170L650 230L640 300L470 250Z"/>
<path class="hh" d="M520 170L600 150L640 170"/>
<ellipse class="w h" cx="720" cy="255" rx="58" ry="62"/>
<ellipse cx="725" cy="275" rx="34" ry="30"/>
<path class="hh" d="M660 215L780 215"/>
<ellipse class="w" cx="735" cy="170" rx="48" ry="40"/>
<path class="w h" d="M800 230L880 190L930 215L920 270L850 290Z"/>
<ellipse class="k" cx="985" cy="185" rx="58" ry="58"/>
<ellipse class="w" cx="1010" cy="175" rx="30" ry="40"/>
<ellipse class="w" cx="905" cy="230" rx="28" ry="34"/>
<path class="h" d="M1000 250L1100 380"/>
<path class="w hh" d="M1090 350L1180 300L1250 320L1260 400L1180 440Z"/>
<ellipse class="w h" cx="1145" cy="445" rx="48" ry="50"/>
<ellipse class="w" cx="1225" cy="330" rx="26" ry="22"/>
<ellipse class="w h" cx="1350" cy="440" rx="55" ry="85" transform="rotate(15 1350 440)"/>
<path class="h" d="M1260 400L1320 520L1400 540"/>
<path class="hh" d="M1400 400L1500 350"/>
<ellipse class="k" cx="1530" cy="345" rx="40" ry="42"/>
</g>
<g class="g" transform="translate(1060 1050) scale(0.339)">
<path class="w" d="M700 120L1200 330L1180 1400L1100 1500L800 900Z" stroke="none"/>
<path d="M1040 330L1180 390L1185 470L1060 420"/>
<path d="M1000 420L1175 495L1170 560L1040 505"/>
<path class="m" d="M1060 500L1200 560L1195 610L1075 560"/>
<path d="M1050 240L1140 280L1140 330L1060 300"/>
<path class="h" d="M1120 290L1150 300L1150 340"/>
<path d="M870 270L1040 330L1030 400L900 340"/>
<path d="M1180 600L1180 1330"/>
<path class="m" d="M1165 880L1180 870"/>
<path d="M1170 1180L1357 1100"/>
<path class="m" d="M1170 1215L1357 1135"/>
<path d="M1160 1235L1357 1150"/>
<path d="M1130 1340L1357 1240"/>
<path d="M1185 1000L1270 955L1290 970L1280 1020L1190 1065"/>
<path class="h" d="M1110 1330C1125 1333.3 1158.8 1346.7 1200 1350C1241.2 1353.3 1330.8 1350 1357 1350"/>
<ellipse class="w" cx="630" cy="838" rx="780" ry="521" transform="rotate(67.8 630 838)"/>
<ellipse class="m" cx="618" cy="843" rx="780" ry="521" transform="rotate(67.8 618 843)"/>
<ellipse class="w" cx="600" cy="850" rx="780" ry="521" transform="rotate(67.8 600 850)"/>
<ellipse cx="604" cy="850" rx="745" ry="488" transform="rotate(67.8 604 850)"/>
<ellipse class="hh" cx="610" cy="848" rx="718" ry="463" transform="rotate(67.8 610 848)"/>
<ellipse cx="622" cy="846" rx="685" ry="433" transform="rotate(67.8 622 846)"/>
<path d="M1010.5 1324.7C1005.8 1331.5 992.4 1353.1 982.2 1365.6C972.1 1378.1 961.1 1389.6 949.5 1399.8C937.9 1410 925.6 1419.1 912.8 1426.9C899.9 1434.7 886.4 1441.2 872.4 1446.5C858.5 1451.7 843.9 1455.7 829 1458.3C814.1 1460.9 798.7 1462.3 783.1 1462.2C767.5 1462.2 751.4 1460.9 735.3 1458.2C719.1 1455.6 702.6 1451.6 686.1 1446.3C669.6 1441.1 652.9 1434.5 636.3 1426.7C619.7 1418.9 603 1409.8 586.5 1399.5C570 1389.3 553.5 1377.8 537.3 1365.2C521.1 1352.7 505 1339 489.3 1324.3C473.6 1309.6 458.1 1293.7 443.2 1277.1C428.2 1260.5 413.5 1242.8 399.5 1224.4C385.4 1206 371.8 1186.7 358.8 1166.8C345.9 1146.9 333.4 1126.1 321.7 1105C310 1083.8 298.9 1062 288.6 1039.9C278.3 1017.7 268.7 995 260 972.2C251.2 949.4 243.2 926.2 236.1 902.9C229 879.7 222.7 856.2 217.4 832.9C212 809.6 207.5 786.1 204 763C200.5 739.8 197.8 716.7 196.1 694.1C194.5 671.5 193.7 649 193.9 627.2C194.1 605.3 195.3 583.8 197.4 563C199.4 542.2 202.5 521.9 206.4 502.5C210.3 483 215.2 464.2 221 446.3C226.7 428.5 233.4 411.4 240.8 395.3C248.3 379.3 256.6 364.1 265.7 350C274.8 336 284.8 323 295.4 311.1C306 299.3 317.4 288.5 329.4 279.1C341.4 269.6 354.1 261.3 367.3 254.3C380.5 247.3 394.4 241.5 408.6 237C422.9 232.6 437.7 229.4 452.9 227.6C468 225.8 483.6 225.3 499.4 226.1C515.3 227 531.5 229.1 547.8 232.6C564 236.1 580.6 240.9 597.2 246.9C613.7 253 630.4 260.3 647 268.9C663.6 277.5 680.3 287.3 696.8 298.3C713.2 309.2 729.6 321.4 745.7 334.7C761.7 347.9 785.2 370.5 793.1 377.6"/>
<path d="M961.9 1352C957 1356.4 942.9 1370.5 932.7 1378.3C922.4 1386.1 911.6 1392.9 900.4 1398.7C889.2 1404.5 877.5 1409.3 865.4 1413C853.4 1416.7 840.9 1419.4 828.1 1421C815.3 1422.6 802.2 1423.1 788.9 1422.6C775.5 1422.1 761.9 1420.5 748.1 1417.9C734.3 1415.2 720.3 1411.5 706.3 1406.8C692.3 1402.1 678 1396.3 663.9 1389.5C649.7 1382.7 635.5 1374.9 621.4 1366.2C607.2 1357.5 593.1 1347.7 579.2 1337.1C565.2 1326.5 551.4 1314.9 537.8 1302.6C524.2 1290.2 510.7 1277 497.6 1263C484.5 1249 471.6 1234.2 459.2 1218.8C446.7 1203.3 434.5 1187.1 422.8 1170.4C411.1 1153.7 399.8 1136.2 389 1118.4C378.2 1100.6 367.8 1082.1 358 1063.4C348.3 1044.6 339 1025.3 330.3 1005.9C321.7 986.4 313.6 966.5 306.1 946.6C298.7 926.6 291.8 906.3 285.7 886.1C279.6 865.8 274.1 845.4 269.3 825.1C264.5 804.8 260.4 784.4 257.1 764.3C253.7 744.1 251.1 724 249.2 704.3C247.3 684.5 246.2 664.9 245.7 645.8C245.3 626.6 245.7 607.7 246.7 589.4C247.8 571.1 249.6 553.1 252.1 535.8C254.7 518.5 258 501.6 262 485.5C265.9 469.4 270.6 453.8 276 439.1C281.4 424.3 287.5 410.2 294.2 397.1C300.9 383.9 308.4 371.4 316.3 359.9C324.3 348.4 333 337.7 342.1 328C351.3 318.3 361.1 309.5 371.3 301.7C381.6 293.9 392.4 287.1 403.6 281.3C414.8 275.5 426.5 270.7 438.6 267C450.6 263.3 463.1 260.6 475.9 259C488.7 257.4 501.8 256.9 515.1 257.4C528.5 257.9 542.1 259.5 555.9 262.1C569.7 264.8 583.7 268.5 597.7 273.2C611.7 277.9 626 283.7 640.1 290.5C654.3 297.3 668.5 305.1 682.6 313.8C696.8 322.5 717.8 338 724.8 342.9"/>
<path class="m" d="M889.1 1373C884.2 1374.6 869.8 1380 859.6 1382.3C849.5 1384.6 839.1 1386.1 828.5 1386.8C817.9 1387.5 807 1387.3 795.9 1386.4C784.9 1385.5 773.6 1383.7 762.3 1381.2C750.9 1378.7 739.4 1375.3 727.8 1371.2C716.2 1367.1 704.5 1362.2 692.8 1356.5C681.1 1350.8 669.3 1344.4 657.6 1337.2C645.9 1330 634.2 1322.1 622.5 1313.5C610.9 1304.9 599.3 1295.6 587.9 1285.6C576.4 1275.7 565.1 1265 553.9 1253.8C542.8 1242.6 531.8 1230.7 521 1218.3C510.3 1205.9 499.7 1192.8 489.4 1179.4C479.1 1165.9 469.1 1151.9 459.4 1137.5C449.7 1123.1 440.3 1108.2 431.2 1092.9C422.2 1077.7 413.5 1062 405.2 1046.1C396.9 1030.2 388.9 1013.9 381.4 997.5C373.9 981 366.8 964.2 360.2 947.4C353.6 930.5 347.4 913.4 341.7 896.3C336.1 879.2 330.8 862 326.2 844.7C321.5 827.5 317.3 810.2 313.6 793.1C309.9 775.9 306.8 758.7 304.2 741.8C301.5 724.8 299.5 707.9 297.9 691.3C296.4 674.7 295.4 658.3 295 642.1C294.6 626 294.7 610.1 295.4 594.7C296 579.2 297.2 564 299 549.3C300.8 534.6 303.1 520.3 305.9 506.5C308.8 492.7 312.1 479.3 316 466.5C319.9 453.7 324.4 441.5 329.3 429.8C334.2 418.2 339.6 407.1 345.5 396.7C351.4 386.3 357.8 376.5 364.6 367.5C371.4 358.4 378.7 350 386.3 342.3C394 334.7 402.1 327.7 410.6 321.5C419.1 315.3 427.9 309.9 437.1 305.3C446.3 300.6 455.9 296.7 465.7 293.6C475.5 290.6 485.7 288.3 496.1 286.8C506.5 285.3 517.2 284.7 528 284.8C538.9 285 550 285.9 561.2 287.7C572.4 289.4 583.8 292 595.3 295.3C606.8 298.7 618.4 302.8 630.1 307.7C641.7 312.7 659.3 322 665.2 324.8"/>
<path class="m" d="M721.1 1515.8C714.7 1514.6 695.7 1511.8 683 1508.8C670.2 1505.8 657.3 1502.1 644.4 1497.7C631.6 1493.4 618.6 1488.3 605.7 1482.6C592.8 1476.9 579.9 1470.6 567.1 1463.6C554.2 1456.7 541.4 1449 528.7 1440.8C516 1432.6 503.3 1423.8 490.9 1414.3C478.4 1404.9 466 1394.9 453.8 1384.4C441.6 1373.8 429.5 1362.7 417.7 1351.1C405.8 1339.5 394.2 1327.3 382.8 1314.7C371.4 1302.1 360.2 1289 349.3 1275.4C338.4 1261.9 327.8 1247.9 317.5 1233.5C307.2 1219.2 297.2 1204.3 287.5 1189.2C277.8 1174.1 268.5 1158.6 259.5 1142.8C250.5 1127.1 241.9 1110.9 233.7 1094.6C225.5 1078.3 217.7 1061.6 210.2 1044.8C202.8 1028.1 195.8 1011 189.3 993.9C182.7 976.7 176.6 959.4 170.9 942C165.3 924.6 160 907 155.3 889.5C150.6 872 146.3 854.4 142.5 836.8C138.7 819.2 135.4 801.6 132.6 784.1C129.8 766.6 127.5 749.1 125.7 731.8C123.9 714.5 122.6 697.3 121.8 680.3C121 663.3 120.7 646.4 120.9 629.7C121.2 613.1 121.9 596.7 123.1 580.5C124.3 564.4 126.1 548.5 128.3 533C130.5 517.4 133.3 502.2 136.5 487.3C139.7 472.5 143.4 458 147.6 443.9C151.8 429.9 156.5 416.2 161.6 403C166.8 389.8 172.4 377.1 178.4 364.8C184.5 352.6 191 340.8 197.9 329.6C204.8 318.4 212.2 307.7 220 297.6C227.7 287.5 235.9 277.9 244.4 269C253 260 261.9 251.6 271.2 243.9C280.5 236.2 290.1 229 300.1 222.6C310 216.1 320.3 210.2 330.9 205.1C341.4 199.9 352.3 195.4 363.4 191.5C374.5 187.7 385.9 184.5 397.5 182C409.1 179.5 421 177.7 433 176.6C444.9 175.5 457.2 175.1 469.5 175.3C481.8 175.6 500.7 177.7 506.9 178.2"/>
<path class="m" d="M627.2 1525.9C621.1 1523.5 602.9 1516.8 590.9 1511.4C578.8 1506.1 566.7 1500.2 554.6 1493.8C542.6 1487.4 530.6 1480.4 518.6 1473C506.7 1465.6 494.8 1457.6 483.1 1449.2C471.4 1440.7 459.7 1431.8 448.2 1422.4C436.7 1413 425.3 1403.2 414 1392.9C402.8 1382.6 391.7 1371.8 380.8 1360.7C369.9 1349.5 359.2 1337.9 348.7 1326C338.2 1314 327.9 1301.7 317.9 1289C307.8 1276.3 298 1263.2 288.5 1249.8C278.9 1236.4 269.6 1222.7 260.6 1208.7C251.6 1194.7 242.8 1180.4 234.4 1165.8C226 1151.3 217.9 1136.4 210.1 1121.4C202.3 1106.4 194.8 1091.1 187.7 1075.7C180.5 1060.3 173.7 1044.6 167.3 1028.9C160.9 1013.1 154.8 997.1 149.1 981.1C143.4 965.1 138 949 133.1 932.8C128.1 916.6 123.6 900.3 119.4 884C115.3 867.7 111.5 851.4 108.1 835.1C104.8 818.8 101.8 802.4 99.3 786.2C96.7 770 94.6 753.7 92.9 737.6C91.2 721.5 89.9 705.5 89 689.6C88.2 673.7 87.7 658 87.7 642.4C87.7 626.8 88.1 611.3 88.9 596.1C89.7 580.9 91 565.9 92.6 551.1C94.3 536.4 96.4 521.8 98.8 507.6C101.3 493.3 104.3 479.3 107.6 465.7C110.9 452 114.6 438.7 118.7 425.7C122.8 412.7 127.4 400 132.3 387.7C137.2 375.4 142.5 363.5 148.1 352C153.8 340.5 159.8 329.4 166.2 318.7C172.6 308 179.4 297.8 186.5 288C193.6 278.2 201 268.9 208.8 260C216.5 251.2 224.6 242.8 233 234.9C241.4 227 250.1 219.6 259.1 212.8C268.1 205.9 277.3 199.6 286.9 193.8C296.4 188 306.2 182.7 316.2 178C326.2 173.2 336.5 169 347 165.4C357.4 161.8 368.1 158.7 379 156.2C389.9 153.7 406.6 151.3 412.2 150.3"/>
<ellipse class="w" cx="220" cy="210" rx="9" ry="11"/>
<ellipse class="w" cx="455" cy="135" rx="9" ry="11"/>
<ellipse class="w" cx="85" cy="455" rx="9" ry="11"/>
<ellipse class="w" cx="75" cy="800" rx="9" ry="11"/>
<ellipse class="w" cx="215" cy="1160" rx="9" ry="11"/>
<ellipse class="w" cx="450" cy="1440" rx="9" ry="11"/>
<ellipse class="w" cx="725" cy="1555" rx="9" ry="11"/>
<ellipse class="w" cx="960" cy="1480" rx="9" ry="11"/>
<ellipse class="w" cx="1095" cy="1240" rx="9" ry="11"/>
<ellipse class="w" cx="1060" cy="1075" rx="9" ry="11"/>
<ellipse class="w" cx="740" cy="255" rx="9" ry="11"/>
<path class="h" d="M140 470L330 395"/>
<path class="h" d="M150 500L320 430"/>
<path class="hh" d="M310 330L500 255L520 290L330 372Z"/>
<path class="hh" d="M310 335L300 400L330 470L355 455L340 380"/>
<path class="hh" d="M340 385L470 335"/>
<path class="h" d="M500 255L720 330"/>
<path class="h" d="M520 290L700 350"/>
<path class="hh" d="M150 300C166.7 290 208.3 255 250 240C291.7 225 355 213.3 400 210C445 206.7 500 218.3 520 220"/>
<path class="h" d="M180 330C195 320.8 233.3 289.2 270 275C306.7 260.8 361.7 249.2 400 245C438.3 240.8 483.3 249.2 500 250"/>
<path class="h" d="M180 480L235 520L260 600L255 690"/>
<path class="h" d="M135 500L180 480"/>
<ellipse class="w" cx="385" cy="372" rx="11" ry="13"/>
<ellipse class="w" cx="345" cy="425" rx="10" ry="12"/>
<path class="hh" d="M490 380C497.5 355 511.7 333.3 530 320C548.3 306.7 575 296.7 600 300C625 303.3 661.7 320 680 340C698.3 360 706.7 391.7 710 420C713.3 448.3 710 485 700 510C690 535 670 558.3 650 570C630 581.7 601.7 585 580 580C558.3 575 535.8 558.3 520 540C504.2 521.7 490 496.7 485 470C480 443.3 482.5 405 490 380Z"/>
<ellipse class="w" cx="565" cy="440" rx="48" ry="60"/>
<path d="M600 395L640 330"/>
<path d="M600 490L690 520"/>
<ellipse class="k" cx="700" cy="385" rx="30" ry="36"/>
<ellipse class="w" cx="688" cy="380" rx="13" ry="18"/>
<path class="hh" d="M480 380L485 470"/>
<path class="hh" d="M330 540L500 470L520 500L560 580"/>
<path d="M335 560L500 495"/>
<path d="M345 580L505 515"/>
<ellipse class="w hh" cx="345" cy="605" rx="28" ry="42" transform="rotate(-15 345 605)"/>
<ellipse class="w" cx="340" cy="605" rx="12" ry="22" transform="rotate(-15 340 605)"/>
<path class="hh" d="M380 640L510 585L560 610L600 690"/>
<path class="h" d="M270 640L350 655"/>
<path class="h" d="M270 670L360 680"/>
<path d="M385 655L520 600"/>
<path d="M390 675L530 618"/>
<path class="h" d="M350 690C358.3 691.7 387.5 688.3 400 700C412.5 711.7 420.8 743.3 425 760C429.2 776.7 425 793.3 425 800"/>
<path class="h" d="M345 690L350 800L425 800"/>
<path class="h" d="M430 745L590 680"/>
<path d="M260 690L345 840"/>
<path d="M290 680L375 850"/>
<path class="hh" d="M600 690L640 660L690 650L700 690L660 720"/>
<ellipse class="k" cx="650" cy="655" rx="20" ry="26"/>
<ellipse class="w" cx="615" cy="680" rx="13" ry="18"/>
<ellipse class="w" cx="665" cy="650" rx="9" ry="14"/>
<path class="hh" d="M690 540L720 640"/>
<path class="hh" d="M560 580L600 690"/>
<path class="hh" d="M745 620C747.5 606.7 750.8 563.3 760 540C769.2 516.7 785 492.5 800 480C815 467.5 841.7 467.5 850 465"/>
<path class="h" d="M780 640C782.5 628.3 786.7 590 795 570C803.3 550 818.3 530 830 520C841.7 510 859.2 511.7 865 510"/>
<ellipse class="w" cx="835" cy="500" rx="14" ry="18"/>
<path class="hh" d="M745 620L780 640"/>
<path class="w" d="M640 745L960 622L1000 700L990 800L945 800L665 905L610 880L600 800Z" stroke="none"/>
<path class="h" d="M640 745L960 622"/>
<path class="h" d="M665 905L945 800"/>
<path class="tt" d="M670 870L960 765"/>
<path d="M600 755C606.7 753.3 629.2 737.5 640 745C650.8 752.5 660 779.2 665 800C670 820.8 670.8 852.5 670 870C669.2 887.5 661.7 899.2 660 905"/>
<path d="M520 790C526.7 786.7 546.7 775.8 560 770C573.3 764.2 593.3 757.5 600 755"/>
<ellipse class="w hh" cx="975" cy="715" rx="48" ry="118" transform="rotate(-8 975 715)"/>
<ellipse cx="985" cy="715" rx="40" ry="105" transform="rotate(-8 985 715)"/>
<ellipse class="m" cx="1000" cy="715" rx="32" ry="92" transform="rotate(-8 1000 715)"/>
<path class="hh" d="M870 600C880 595.8 910.8 576.7 930 575C949.2 573.3 970 579.2 985 590C1000 600.8 1014.2 631.7 1020 640"/>
<path class="hh" d="M860 870C866.7 878.3 883.3 908.3 900 920C916.7 931.7 940 943.3 960 940C980 936.7 1005.8 915 1020 900C1034.2 885 1040.8 858.3 1045 850"/>
<path class="h" d="M880 850C886.7 856.7 905.8 880.8 920 890C934.2 899.2 950 906.7 965 905C980 903.3 1002.5 884.2 1010 880"/>
<ellipse class="w h" cx="992" cy="912" rx="14" ry="17"/>
<path class="k" d="M395 872L600 785L648 830L652 900L445 985L395 955Z"/>
<path class="tt" d="M400 880L606 795" stroke="#bbb"/>
<path class="tt" d="M401.6 894L614.4 815" stroke="#bbb"/>
<path class="tt" d="M403.2 908L622.8 835" stroke="#bbb"/>
<path class="tt" d="M404.8 922L631.2 855" stroke="#bbb"/>
<path class="tt" d="M406.4 936L639.6 875" stroke="#bbb"/>
<path class="tt" d="M408 950L648 895" stroke="#bbb"/>
<ellipse class="m" cx="625" cy="845" rx="38" ry="62" transform="rotate(-15 625 845)"/>
<path class="w" d="M345 925L400 900L445 985L380 985Z"/>
<ellipse class="w" cx="362" cy="952" rx="18" ry="30" transform="rotate(-15 362 952)"/>
<path class="hh" d="M570 960L650 925L700 940L720 1000"/>
<ellipse class="k" cx="715" cy="955" rx="22" ry="30"/>
<ellipse class="k" cx="735" cy="945" rx="14" ry="22"/>
<ellipse class="w" cx="690" cy="968" rx="13" ry="18"/>
<path class="hh" d="M575 965L585 1030L625 1010L640 960"/>
<path class="hh" d="M590 1000L920 1275"/>
<path class="h" d="M545 1060L900 1300"/>
<path d="M640 1040L935 1260"/>
<path class="h" d="M540 1062L440 1150"/>
<path d="M560 1080L470 1160"/>
<path class="h" d="M380 1140L440 1150L445 1100L470 1020L440 1000"/>
<path class="h" d="M375 1150L405 1125L430 1140L400 1165Z"/>
<path d="M440 1005L480 1010L485 1060"/>
<path class="h" d="M750 1000L880 1110L940 1215"/>
<path class="hh" d="M760 960L770 1085"/>
<ellipse class="k" cx="925" cy="1020" rx="34" ry="48"/>
<ellipse class="w" cx="905" cy="1035" rx="16" ry="22"/>
<ellipse class="w h" cx="880" cy="1045" rx="13" ry="17"/>
<path class="h" d="M880 1060L885 1215"/>
<path class="h" d="M950 1050L955 1200"/>
<path class="hh" d="M975 1190L1020 1150L1060 1140L1075 1180L1050 1260L1000 1250"/>
<ellipse class="w" cx="1020" cy="1200" rx="22" ry="30" transform="rotate(20 1020 1200)"/>
<path class="hh" d="M690 1400C708.3 1395 765 1383.3 800 1370C835 1356.7 873.3 1336.7 900 1320C926.7 1303.3 950 1278.3 960 1270"/>
<path class="h" d="M700 1430C721.7 1424.2 791.7 1410.8 830 1395C868.3 1379.2 913.3 1345 930 1335"/>
<path class="hh" d="M820 1350L860 1400L900 1380"/>
<path class="h" d="M440 1210L690 1400"/>
<path d="M420 1240L660 1420"/>
<path class="h" d="M255 700L330 860L400 1000L440 1000"/>
<path d="M230 720L300 880L380 1040"/>
<path class="h" d="M345 840L345 900"/>
<path class="hh" d="M300 520L310 640"/>
<path d="M200 420L300 385"/>
<path class="hh" d="M330 470L500 400"/>
<path class="hh" d="M470 335L490 380"/>
<path d="M520 500L600 470"/>
<path d="M430 800L600 735"/>
<path d="M600 800L600 880"/>
<path class="hh" d="M700 330C710 325 738.3 301.7 760 300C781.7 298.3 810 306.7 830 320C850 333.3 871.7 370 880 380"/>
<path class="h" d="M720 350C728.3 346.7 753.3 330.8 770 330C786.7 329.2 805 334.2 820 345C835 355.8 853.3 386.7 860 395"/>
<path class="hh" d="M880 380L960 560"/>
<path class="h" d="M860 395L930 570"/>
<path class="hh" d="M745 620L720 700"/>
<path class="h" d="M800 640L830 600L880 590"/>
<path class="hh" d="M1010 600C1016.7 616.7 1041.7 666.7 1050 700C1058.3 733.3 1061.7 770 1060 800C1058.3 830 1043.3 866.7 1040 880"/>
<path class="hh" d="M720 1000L750 1000"/>
<path d="M600 1030L660 1060L650 1100"/>
<path class="h" d="M480 1160L700 1330"/>
<path class="hh" d="M960 1270L1000 1250"/>
<path class="h" d="M930 1335L1000 1290L1050 1260"/>
<path class="h" d="M1000 960L1060 1000L1070 1100"/>
<path d="M1030 940L1085 985L1095 1080"/>
<path d="M470 110L700 200L900 300"/>
<path class="m" d="M520 100L720 185"/>
</g>
<g class="g" transform="translate(1100 980) scale(0.2004)">
<path class="h" d="M760 400L1020 470"/>
<path d="M740 430L1560 700"/>
<path class="h" d="M720 470L1900 830"/>
<path d="M700 500L2050 880"/>
<path class="hh" d="M1000 560L1800 800"/>
<path d="M1080 600L2000 860"/>
<path d="M1100 640L2150 940"/>
<path class="h" d="M1060 700L1700 880"/>
<path class="w" d="M980 600L985 660L1075 690L1080 600Z"/>
<path class="m" d="M1030 610L1032 675"/>
<path d="M250 540L255 430L340 340L560 245L740 325L735 470"/>
<path class="m" d="M340 340L440 395L640 310"/>
<path class="m" d="M440 395L400 520"/>
<ellipse class="w" cx="680" cy="400" rx="24" ry="26"/>
<ellipse class="w" cx="462" cy="485" rx="18" ry="20"/>
<ellipse class="k" cx="580" cy="480" rx="20" ry="14"/>
<path class="h" d="M250 540L400 520L620 500"/>
<path class="h" d="M1060 290C1043.3 293.3 982.5 298.3 960 310C937.5 321.7 928.3 341.7 925 360C921.7 378.3 927.5 403.3 940 420C952.5 436.7 990 453.3 1000 460"/>
<path class="k" d="M1010 375L1090 360L1105 410L1025 420Z"/>
<ellipse class="w" cx="1055" cy="377" rx="24" ry="14"/>
<path class="k" d="M1295 490L1375 475L1390 525L1310 535Z"/>
<ellipse class="w" cx="1340" cy="492" rx="24" ry="14"/>
<path class="k" d="M1575 600L1655 585L1670 635L1590 645Z"/>
<ellipse class="w" cx="1620" cy="602" rx="24" ry="14"/>
<path class="h" d="M1000 440L1800 720"/>
<path d="M1100 420L1560 580"/>
<path class="hh" d="M750 345L1800 -60"/>
<path d="M790 370L1500 95"/>
<path class="k" d="M1070 230L1140 200L1155 240L1085 270Z"/>
<ellipse class="w" cx="1110" cy="225" rx="20" ry="12"/>
<path class="k" d="M1330 130L1400 100L1415 140L1345 170Z"/>
<ellipse class="w" cx="1370" cy="125" rx="20" ry="12"/>
<path d="M1160 250L1330 185L1345 215L1180 280Z"/>
<path d="M1430 140L1680 45L1690 70L1445 170Z"/>
<path d="M1560 900L1700 850L1760 870L1765 960L1620 1010"/>
<path class="hh" d="M1590 870L1600 920"/>
<path class="h" d="M1720 860L1725 950"/>
<path d="M1500 1080L1700 1010L1850 1060"/>
<path d="M1520 1110L1700 1050L1840 1100L1835 1150"/>
<path d="M1560 1180L1720 1130L1850 1180L1840 1290L1700 1240"/>
<path class="h" d="M1570 1210L1700 1170L1720 1235"/>
<path d="M1590 1290L1720 1330L1800 1370L1860 1320"/>
<path class="h" d="M1600 1240L1605 1300"/>
<path class="m" d="M1850 1060L1900 1030"/>
<path class="k" d="M1340 940L1420 930L1480 1000L1600 1200L1540 1180L1420 1010Z"/>
</g>
<!--/GEARBOX-->
<!--SMALLPARTS-->
<g class="g">
<path class="cab" stroke-width="11.2" d="M1678 406L1720 371L1752 345"/>
<path class="cabw" stroke-width="4.6" d="M1678 406L1720 371L1752 345"/>
<path class="w" d="M1668 402L1684 388L1694 400L1678 414Z"/>
<path d="M1676 395L1686 407"/>
<path class="w m" d="M1680 293L1778 314L1783 322L1776 326L1700 313L1690 322L1668 326L1657 318L1658 305L1668 298Z"/>
<path class="t" d="M1700 313L1690 300"/>
<ellipse class="h" cx="1676" cy="312" rx="15" ry="11" transform="rotate(20 1676 312)"/>
<ellipse class="k" cx="1680" cy="313" rx="7" ry="5" transform="rotate(20 1680 313)"/>
<ellipse class="m" cx="1771" cy="320" rx="8" ry="6"/>
<path class="k" d="M1752 327L1777 327L1777 342L1768 346L1752 340Z"/>
<path class="w" d="M1757 338L1768 338L1764 346Z" stroke="none"/>
<path class="w" d="M1630 533L1656 537L1656 550L1630 547Z"/>
<path d="M1638 534L1638 548"/>
<path d="M1648 535L1648 549"/>
<path class="cab" stroke-width="12.5" d="M1656 543.5L1700 551.5"/>
<path class="cabw" stroke-width="5.5" d="M1656 543.5L1700 551.5"/>
<path class="cab" stroke-width="9.5" d="M1700 552L1744 560"/>
<path class="cabw" stroke-width="2.8" d="M1700 552L1744 560"/>
<path class="h" d="M1700 546L1700 558"/>
<path class="w h" d="M1743 550L1762 552L1782 558L1784 572L1776 580L1760 578L1743 566Z"/>
<ellipse class="h" cx="1771" cy="566" rx="7" ry="11" transform="rotate(10 1771 566)"/>
<path d="M1752 552L1753 572"/>
<path class="w" d="M634 706L652 694L664 700L668 716L650 728Z"/>
<path class="m" d="M652 694L660 722"/>
<path class="k" d="M644 726L652 722L668 756L661 760Z"/>
<path class="w" d="M662 742L678 734L690 740L694 756L676 768Z"/>
<path class="m" d="M678 734L686 764"/>
<path class="w" d="M448 1166L488 1184L492 1196L488 1208L474 1210L462 1196Z"/>
<path class="m" d="M462 1196L476 1192L490 1198"/>
<path class="h" d="M456 1176L470 1188L466 1200"/>
<path class="h" d="M420 1178L424 1186"/>
<path class="w" d="M612 1158L626 1149L640 1150L644 1166L640 1180L624 1184Z"/>
<path class="m" d="M626 1149L632 1180"/>
<path class="kg" d="M620 1180L636 1176L644 1182L636 1192L624 1192Z"/>
<path class="w" d="M676 1148L694 1140L702 1146L705 1196L694 1208L678 1212Z"/>
<path class="t" d="M680 1152L682 1208"/>
<ellipse class="k" cx="691" cy="1158" rx="3.5" ry="4"/>
<path d="M640 1196L655 1205L678 1212"/>
<path d="M652 1178L662 1170L676 1176"/>
<path class="m" d="M660 1172L664 1190L676 1196"/>
<path class="w" d="M1072 938L1176 972L1178 1008L1160 1018L1158 988L1066 952Z"/>
<path class="m" d="M1158 988L1176 972"/>
<ellipse class="k" cx="1169" cy="1000" rx="3" ry="4"/>
<path class="w" d="M1036 912L1046 902L1062 898L1082 912L1084 930L1070 942L1050 938Z"/>
<path class="h" d="M1040 920L1060 910L1078 922"/>
<ellipse class="kg" cx="1060" cy="924" rx="9" ry="7" transform="rotate(-30 1060 924)"/>
<path class="hh" d="M1036 904L1044 898"/>
<ellipse class="w" cx="2041" cy="1410" rx="22.5" ry="29" transform="rotate(-8 2041 1410)" stroke="#9a918f"/>
<ellipse cx="2039" cy="1410" rx="9" ry="13" transform="rotate(-8 2039 1410)" stroke="#9a918f"/>
<ellipse cx="2043" cy="1411" rx="9" ry="13" transform="rotate(-8 2043 1411)" stroke="#aaa3a1"/>
<ellipse class="w" cx="2190" cy="1345" rx="22" ry="26" transform="rotate(-5 2190 1345)" stroke="#8d8583"/>
<ellipse cx="2183" cy="1344" rx="13" ry="18" transform="rotate(-5 2183 1344)" stroke="#9a918f"/>
<ellipse cx="2182" cy="1345" rx="6" ry="10" transform="rotate(-5 2182 1345)" stroke="#8d8583"/>
<path d="M2196 1322C2197.7 1325 2204.7 1333.3 2206 1340C2207.3 1346.7 2204.3 1358.3 2204 1362" stroke="#aaa3a1"/>
<path d="M2200 1352L2210 1348" stroke="#aaa3a1"/>
<path class="w" d="M961 1651L1048 1617L1062 1618L1068 1630L1064 1642L975 1677L962 1678L956 1668L956 1658Z" stroke="#8d8583"/>
<path d="M1004 1635C1005 1636.7 1008.8 1640.8 1010 1645C1011.2 1649.2 1010.8 1657.5 1011 1660" stroke="#b8b2b0"/>
<path d="M1024 1627C1025 1628.8 1028.8 1633.8 1030 1638C1031.2 1642.2 1030.8 1649.7 1031 1652" stroke="#b8b2b0"/>
<path d="M964 1652C965.3 1653.7 970.7 1658 972 1662C973.3 1666 972 1673.7 972 1676" stroke="#b8b2b0"/>
</g>
<path class="thin" d="M1069 1626L1388 1487"/>
<path class="thin" d="M1560 1412L1800 1512L2034 1413"/>
<path class="thin" d="M2064 1401L2181 1352"/>
<!--/SMALLPARTS-->
</g>

<!-- callouts -->
<g id="callouts">
<line class="lds" x1="804" y1="468.6" x2="850" y2="468.6"/><line class="ld" x1="804" y1="465.6" x2="850" y2="465.6" style="stroke-width:3"/>
<line class="ld" x1="2047" y1="1447" x2="2047" y2="1494"/>
<line class="ld" x1="1001" y1="1585" x2="1001" y2="1624"/>
<line class="ld" x1="2193" y1="1378" x2="2193" y2="1424"/>
<line class="ld" x1="1704" y1="816" x2="1704" y2="861"/>
<circle class="co" cx="764.5" cy="467" r="36"/>
<circle class="co" cx="2046" cy="1531" r="36"/>
<circle class="co" cx="993" cy="1549" r="36"/>
<circle class="co" cx="2186" cy="1467" r="36"/>
<circle class="co" cx="1700.5" cy="780" r="36"/>
<path fill="#000" d="M772.1 446V486.8H764.2V457Q760.2 461.4 753.9 463.9V456.1Q762.7 452.6 766.4 446Z"/>
<text class="num" x="2046" y="1551">2</text>
<text class="num" x="993" y="1569">3</text>
<text class="num" x="2186" y="1487">4</text>
<text class="num" x="1700.5" y="800">5</text>
</g>

<!-- watermark -->
<text x="1091.5" y="935.8" font-family="Liberation Sans, sans-serif" font-size="77.5" fill="#fff" stroke="#000" stroke-width="2.1" textLength="377" lengthAdjust="spacingAndGlyphs">meppon.cc</text>
<text x="1043.5" y="914.3" font-family="Liberation Sans, sans-serif" font-size="44.3" fill="#1f73c3" textLength="475" lengthAdjust="spacing">www.yongyuanzd.com</text>

<!-- drawing number -->
<g font-family="Liberation Sans, sans-serif" font-size="40.5" fill="#000" text-anchor="middle">
<text y="1791" x="2139.2 2161.4 2183.6 2205.8 2228 2250.2 2272.4 2294.6 2316.8 2339 2361.2 2383.4 2405.6 2427.8 2450 2466 2516.6">0500–2705010976.1</text>
<text transform="translate(2117.5 1791) scale(0.78 1)">C</text>
<text transform="translate(2494.4 1791) scale(0.8 1)">S</text>
<text transform="translate(2539.5 1791) scale(0.8 1)">B</text>
</g>
</svg>
</body>
</html>
